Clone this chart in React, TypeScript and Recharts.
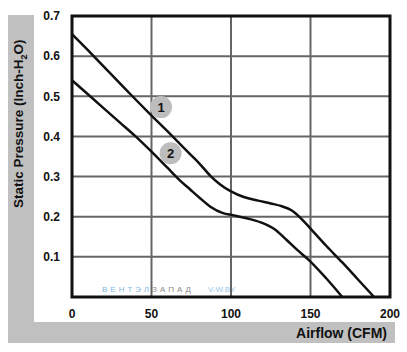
import React from "react";
import { LineChart, Line, XAxis, YAxis, CartesianGrid, ReferenceArea, ReferenceDot } from "recharts";

// curve 1: airflow (CFM) -> static pressure (inch H2O)
const flow1 = [0, 10, 20, 30, 40, 50, 60, 70, 75, 80, 87, 93, 100, 108, 117, 125, 132, 138, 144, 151, 160, 170, 180, 190];
const pres1 = [0.655, 0.615, 0.574, 0.533, 0.492, 0.452, 0.413, 0.373, 0.353, 0.333, 0.302, 0.281, 0.263, 0.249, 0.24, 0.233, 0.226, 0.216, 0.196, 0.166, 0.127, 0.086, 0.043, 0];

// curve 2
const flow2 = [0, 10, 20, 30, 40, 50, 60, 68, 74, 80, 87, 95, 101, 112, 120, 127, 135, 142, 149, 160, 170];
const pres2 = [0.54, 0.505, 0.47, 0.435, 0.4, 0.362, 0.322, 0.29, 0.269, 0.248, 0.225, 0.209, 0.204, 0.194, 0.184, 0.17, 0.142, 0.116, 0.092, 0.046, 0];

const xTicks = [0, 50, 100, 150, 200];
const yTicks = [0.1, 0.2, 0.3, 0.4, 0.5, 0.6, 0.7];

// curve badges: [airflow, pressure, label]
const badges: [number, number, string][] = [
    [56, 0.473, "1"],
    [62, 0.358, "2"],
];

const series1 = flow1.map((a, i) => ({ a, p: pres1[i] }));
const series2 = flow2.map((a, i) => ({ a, p: pres2[i] }));

const font = "'Liberation Sans', Arial, sans-serif";

const BadgeLabel = ({ viewBox, text }: any) => {
    const cx = viewBox.x + viewBox.width / 2;
    const cy = viewBox.y + viewBox.height / 2;
    return (
        <text x={cx} y={cy + 4.5} textAnchor="middle" fontFamily={font} fontWeight="bold" fontSize={13} fill="#111">
            {text}
        </text>
    );
};

const App = () => {
    return (
        <div style={{ position: "absolute", left: 0, top: 0, width: 407, height: 352, background: "#fff" }}>
            {/* grey L-shaped frame */}
            <div style={{ position: "absolute", left: 8, top: 15, width: 26, height: 328, background: "#c0c0c0" }} />
            <div style={{ position: "absolute", left: 8, top: 322, width: 387, height: 21, background: "#c0c0c0" }} />
            <div
                style={{
                    position: "absolute", left: 11, top: 208, transformOrigin: "0 0",
                    transform: "rotate(-90deg)", whiteSpace: "nowrap",
                    fontFamily: font, fontWeight: "bold", fontSize: 13.5, lineHeight: "15px", color: "#111",
                }}
            >
                Static Pressure (Inch-H<sub style={{ fontSize: 9, lineHeight: 0 }}>2</sub>O)
            </div>
            <div style={{ position: "absolute", right: 20, top: 325, fontFamily: font, fontWeight: "bold", fontSize: 14, lineHeight: "16px", color: "#111" }}>
                Airflow (CFM)
            </div>
            <div style={{ position: "absolute", left: 102, top: 285, fontFamily: font, fontSize: 8, letterSpacing: 3, whiteSpace: "nowrap" }}>
                <span style={{ color: "#7fb6e0" }}>ВЕНТЭЛ</span>
                <span style={{ color: "#8a8a8a" }}>ЗАПАД</span>
                <span style={{ color: "#9cc6e8", letterSpacing: 0, marginLeft: 14 }}>V-W.BY</span>
            </div>
            <div style={{ position: "absolute", left: 0, top: 0 }}>
                <LineChart width={407} height={352} margin={{ top: 16, right: 17, bottom: 35, left: 30 }}>
                    <CartesianGrid stroke="#666" strokeWidth={2} horizontalValues={[0.1, 0.2, 0.3, 0.4, 0.5, 0.6]} verticalValues={[50, 100, 150]} />
                    <XAxis
                        dataKey="a" type="number" domain={[0, 200]} ticks={xTicks} height={20}
                        axisLine={false} tickLine={false} tickMargin={6}
                        tick={{ fontFamily: font, fontWeight: "bold", fontSize: 12, fill: "#111" }}
                    />
                    <YAxis
                        type="number" domain={[0, 0.7]} ticks={yTicks} width={42}
                        axisLine={false} tickLine={false} tickMargin={6}
                        tick={{ fontFamily: font, fontWeight: "bold", fontSize: 12, fill: "#111" }}
                    />
                    <ReferenceArea x1={0} x2={200} y1={0} y2={0.7} fill="none" stroke="#111" strokeWidth={3} ifOverflow="visible" />
                    <Line data={series1} dataKey="p" type="monotone" stroke="#111" strokeWidth={2.5} dot={false} isAnimationActive={false} />
                    <Line data={series2} dataKey="p" type="monotone" stroke="#111" strokeWidth={2.5} dot={false} isAnimationActive={false} />
                    {badges.map(([x, y, t]) => (
                        <ReferenceDot key={t} x={x} y={y} r={11} fill="#bdbdbd" stroke="none" label={<BadgeLabel text={t} />} />
                    ))}
                </LineChart>
            </div>
        </div>
    );
};

export default App;
